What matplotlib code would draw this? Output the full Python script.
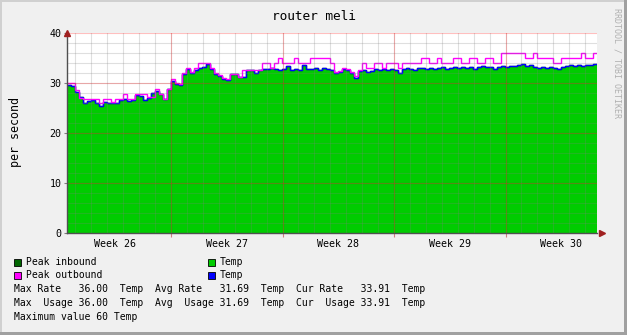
import numpy as np
import matplotlib
matplotlib.use('Agg')
import matplotlib.pyplot as plt
from matplotlib.patches import Rectangle

# 6-hourly samples over five weeks (x = days since start of graph)
temp_avg = [
    29.7, 29.4, 28.3, 27.2, 26.1, 26.5, 26.6, 26.0, 25.4, 26.2,
    26.1, 26.0, 26.1, 26.6, 26.9, 26.4, 26.6, 27.6, 27.5, 26.7,
    27.0, 28.0, 28.5, 27.8, 26.9, 28.8, 30.5, 29.9, 29.6, 31.8,
    32.9, 32.1, 32.6, 33.0, 33.3, 33.8, 32.8, 31.9, 31.5, 30.9,
    30.7, 31.8, 31.8, 31.2, 31.3, 32.6, 32.6, 32.1, 32.6, 32.8,
    32.9, 33.0, 32.8, 32.6, 32.9, 33.5, 32.7, 32.8, 32.6, 33.6,
    32.9, 32.8, 33.0, 32.7, 33.0, 32.9, 32.7, 32.1, 32.2, 32.8,
    32.6, 32.0, 31.1, 32.5, 32.7, 32.2, 32.4, 32.8, 32.7, 32.9,
    32.6, 32.8, 32.7, 32.1, 32.9, 33.0, 32.8, 32.6, 33.1, 33.0,
    32.8, 33.1, 32.9, 33.0, 33.2, 32.9, 33.1, 33.3, 33.0, 33.2,
    33.1, 33.3, 32.9, 33.2, 33.4, 33.2, 33.3, 32.9, 33.3, 33.5,
    33.3, 33.4, 33.5, 33.7, 33.8, 33.5, 33.6, 33.3, 33.1, 33.2,
    33.0, 33.3, 33.0, 32.9, 33.3, 33.4, 33.6, 33.4, 33.6, 33.5,
    33.7, 33.6, 33.9,
]
peak_out = [
    30.0, 30.0, 28.7, 27.0, 26.9, 26.9, 26.9, 26.9, 26.0, 26.9,
    26.9, 26.3, 26.9, 26.9, 27.9, 26.9, 26.9, 27.9, 27.9, 27.9,
    27.3, 27.3, 28.9, 27.9, 26.9, 28.9, 30.9, 30.1, 29.8, 32.0,
    33.1, 32.3, 33.0, 34.0, 34.0, 34.0, 33.0, 32.0, 31.6, 31.0,
    30.9, 31.9, 31.9, 31.3, 32.6, 32.6, 32.6, 32.6, 32.6, 34.0,
    34.0, 33.0, 34.0, 35.0, 34.0, 34.0, 34.0, 35.0, 34.0, 34.0,
    34.0, 35.0, 35.0, 35.0, 35.0, 35.0, 34.0, 32.3, 32.5, 33.0,
    32.8, 32.3, 31.5, 32.7, 34.0, 33.0, 33.0, 34.0, 34.0, 33.0,
    34.0, 34.0, 34.0, 33.1, 34.0, 34.0, 34.0, 34.0, 34.0, 35.0,
    35.0, 34.0, 34.0, 35.0, 34.0, 34.0, 34.0, 35.0, 35.0, 34.0,
    34.0, 35.0, 35.0, 34.0, 34.0, 35.0, 35.0, 34.0, 34.0, 36.0,
    36.0, 36.0, 36.0, 36.0, 36.0, 35.0, 35.0, 36.0, 35.0, 35.0,
    35.0, 35.0, 34.0, 34.0, 35.0, 35.0, 35.0, 35.0, 35.0, 36.0,
    35.0, 35.0, 36.0,
]
week_labels = ['Week 26', 'Week 27', 'Week 28', 'Week 29', 'Week 30']
first_week_start = 6.53  # days, Week 27 boundary
legend_lines = [
    'Max Rate   36.00  Temp  Avg Rate   31.69  Temp  Cur Rate   33.91  Temp',
    'Max  Usage 36.00  Temp  Avg  Usage 31.69  Temp  Cur  Usage 33.91  Temp',
    'Maximum value 60 Temp',
]

W, H = 627, 335
MONO = 'DejaVu Sans Mono'
fig = plt.figure(figsize=(W / 100, H / 100), dpi=100, facecolor='#f0f0f0')

# overlay in pixel coordinates for text and decorations
bg = fig.add_axes([0, 0, 1, 1], zorder=0)
bg.set_xlim(0, W)
bg.set_ylim(H, 0)
bg.axis('off')

ax = fig.add_axes([67 / W, (H - 233) / H, 530 / W, 200 / H], zorder=1)
ax.set_facecolor('white')

edges = np.arange(len(temp_avg) + 1) * 0.25
ax.stairs(temp_avg, edges, fill=True, color='#00cc00', baseline=0, zorder=1)
ax.stairs(temp_avg, edges, color='#006600', baseline=None, lw=1.0, zorder=2)
ax.stairs(temp_avg, edges, color='#0000ff', baseline=None, lw=1.0, zorder=3)
ax.stairs(peak_out, edges, color='#ff00ff', baseline=None, lw=1.0, zorder=4)

xmax = 530 / 15.93
ax.set_xlim(0, xmax)
ax.set_ylim(0, 40)

# grid, drawn on top like rrdtool
minor_x = np.arange(first_week_start - 6, xmax, 1.0)
major_x = np.arange(first_week_start, xmax, 7.0)
label_x = [first_week_start - 3.5 + 7 * i for i in range(len(week_labels))]
for x in minor_x:
    ax.axvline(x, color=(0.5, 0.5, 0.5, 0.25), lw=0.8, zorder=5)
for y in range(2, 40, 2):
    ax.axhline(y, color=(0.5, 0.5, 0.5, 0.25), lw=0.8, zorder=5)
for x in major_x:
    ax.axvline(x, color=(1, 0, 0, 0.25), lw=0.8, zorder=6)
for y in range(10, 41, 10):
    ax.axhline(y, color=(1, 0, 0, 0.25), lw=0.8, zorder=6)

for s in ['top', 'right']:
    ax.spines[s].set_visible(False)
for s in ['left', 'bottom']:
    ax.spines[s].set_color('#505050')
    ax.spines[s].set_linewidth(1.0)
    ax.spines[s].set_zorder(7)

ax.set_yticks([0, 10, 20, 30, 40])
ax.set_yticklabels(['0', '10', '20', '30', '40'], fontfamily=MONO, fontsize=7.2)
ax.set_xticks(major_x)
ax.set_xticklabels([])
ax.set_xticks(label_x, minor=True)
ax.set_xticklabels(week_labels, minor=True, fontfamily=MONO, fontsize=7.2)
ax.tick_params(axis='y', length=2, color='#808080', pad=2)
ax.tick_params(axis='x', which='major', length=3, color='#d08080')
ax.tick_params(axis='x', which='minor', length=0, pad=4)

# axis arrows
ax.plot([0], [1.0], marker='^', color='#a02020', markersize=4,
        transform=ax.transAxes, clip_on=False, zorder=8)
ax.plot([1.0 + 5 / 530], [0], marker='>', color='#a02020', markersize=4,
        transform=ax.transAxes, clip_on=False, zorder=8)

# texts
bg.text(314, 16, 'router meli', family=MONO, fontsize=9.2, ha='center', va='center')
bg.text(15, 132, 'per second', family=MONO, fontsize=8.4, rotation=90,
        ha='center', va='center')
bg.text(617, 63, 'RRDTOOL / TOBI OETIKER', family=MONO, fontsize=6, rotation=270,
        ha='center', va='center', color='#b0b0b0')

# legend
legend = [(14, 262, '#006600', 'Peak inbound'), (208, 262, '#00cc00', 'Temp'),
          (14, 275, '#ff00ff', 'Peak outbound'), (208, 275, '#0000ff', 'Temp')]
for x, y, c, label in legend:
    bg.add_patch(Rectangle((x, y - 3.5), 7, 7, facecolor=c, edgecolor='black', lw=0.6))
    bg.text(x + 12, y, label, family=MONO, fontsize=7, va='center')
for i, line in enumerate(legend_lines):
    bg.text(14, 289.3 + i * 14, line, family=MONO, fontsize=7, va='center')

# 3d frame
bg.add_patch(Rectangle((0, 0), W, 2, color='#d0d0d0', lw=0))
bg.add_patch(Rectangle((0, 0), 2, H, color='#d0d0d0', lw=0))
bg.add_patch(Rectangle((0, H - 3), W, 3, color='#a0a0a0', lw=0))
bg.add_patch(Rectangle((W - 3, 0), 3, H, color='#a0a0a0', lw=0))

fig.savefig('out.png', dpi=100, facecolor=fig.get_facecolor())
